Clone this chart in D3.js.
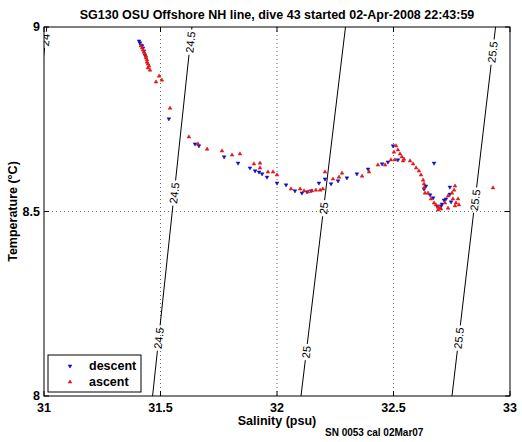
<!DOCTYPE html>
<html><head><meta charset="utf-8">
<script src="https://cdn.jsdelivr.net/npm/d3@7"></script>
<style>
body{margin:0;background:#fff;}
text{font-family:"Liberation Sans",Arial,Helvetica,sans-serif;}
</style></head>
<body><svg id="c" width="522" height="442"></svg>
<script>
// ---- data ----
const xTicks = [31, 31.5, 32, 32.5, 33];
const yTicks = [8, 8.5, 9];
const xTickLabels = ["31", "31.5", "32", "32.5", "33"];
const yTickLabels = ["8", "8.5", "9"];

// descent: [salinity, temperature]
const descentS = [31.408,31.412,31.416,31.421,31.425,31.429,31.433,31.536,31.648,31.665,31.773,31.833,31.884,31.906,31.923,31.936,31.957,32.000,32.039,32.077,32.107,32.129,32.146,32.180,32.206,32.232,32.262,32.300,32.343,32.391,32.451,32.476,32.498,32.519,32.674,32.639,32.631,32.657,32.670,32.687,32.704,32.708,32.717,32.725,32.742,32.742,32.747];
const descentT = [8.962,8.957,8.951,8.949,8.943,8.935,8.924,8.751,8.683,8.678,8.648,8.631,8.618,8.610,8.607,8.602,8.593,8.577,8.572,8.556,8.550,8.553,8.556,8.577,8.588,8.575,8.583,8.591,8.602,8.615,8.629,8.634,8.678,8.640,8.631,8.569,8.561,8.545,8.537,8.515,8.515,8.520,8.531,8.534,8.566,8.547,8.526];

const ascentS = [31.416,31.421,31.425,31.429,31.433,31.438,31.438,31.442,31.442,31.446,31.451,31.446,31.455,31.494,31.506,31.481,31.541,31.622,31.661,31.700,31.764,31.807,31.841,31.901,31.927,31.927,31.961,31.983,32.000,32.060,32.099,32.116,32.133,32.150,32.167,32.185,32.197,32.206,32.240,32.266,32.279,32.365,32.395,32.433,32.464,32.489,32.511,32.519,32.528,32.536,32.545,32.506,32.541,32.502,32.571,32.584,32.597,32.609,32.618,32.627,32.631,32.631,32.635,32.648,32.661,32.674,32.682,32.691,32.700,32.704,32.691,32.721,32.734,32.734,32.751,32.755,32.760,32.764,32.768,32.764,32.781,32.777,32.927];
const ascentT = [8.949,8.943,8.938,8.932,8.927,8.921,8.916,8.911,8.905,8.900,8.894,8.889,8.883,8.867,8.856,8.851,8.780,8.702,8.683,8.669,8.664,8.653,8.656,8.629,8.631,8.618,8.607,8.607,8.599,8.561,8.561,8.556,8.553,8.556,8.558,8.558,8.561,8.607,8.588,8.593,8.604,8.596,8.607,8.626,8.626,8.640,8.678,8.667,8.656,8.648,8.642,8.640,8.637,8.661,8.637,8.629,8.618,8.610,8.599,8.585,8.575,8.564,8.550,8.550,8.534,8.523,8.518,8.512,8.510,8.507,8.504,8.523,8.542,8.509,8.550,8.534,8.558,8.569,8.523,8.515,8.518,8.534,8.564];

// isopycnals (sigma-theta): salinity where each crosses T=8 and T=9
const sigmaLevels = ["24", "24.5", "25", "25.5"];
const sigmaSAtT8 = [30.840, 31.466, 32.103, 32.751];
const sigmaSAtT9 = [31.012, 31.635, 32.294, 32.938];
const sigmaLabelT = [[8.965], [8.959, 8.550, 8.157], [8.509, 8.119], [8.932, 8.531, 8.157]];

// ---- layout ----
const svg = d3.select("#c");
const L = 44, R = 510, T = 27, B = 396;
const x = d3.scaleLinear().domain([31, 33]).range([L, R]);
const y = d3.scaleLinear().domain([8, 9]).range([B, T]);

svg.append("rect").attr("width",522).attr("height",442).attr("fill","#fff");
svg.append("defs").append("clipPath").attr("id","pc")
  .append("rect").attr("x",L).attr("y",T).attr("width",R-L).attr("height",B-T);

// grid
const grid = svg.append("g").attr("stroke","#444").attr("stroke-width",0.8).attr("stroke-dasharray","1,3");
xTicks.slice(1,-1).forEach(v => grid.append("line").attr("x1",x(v)).attr("x2",x(v)).attr("y1",T).attr("y2",B));
yTicks.slice(1,-1).forEach(v => grid.append("line").attr("x1",L).attr("x2",R).attr("y1",y(v)).attr("y2",y(v)));

// contours
const cg = svg.append("g").attr("clip-path","url(#pc)");
sigmaLevels.forEach((lev, i) => {
  const p0 = [x(sigmaSAtT8[i]), y(8)], p1 = [x(sigmaSAtT9[i]), y(9)];
  const dx = p1[0]-p0[0], dy = p1[1]-p0[1];
  const len = Math.hypot(dx, dy);
  const ux = dx/len, uy = dy/len;
  const ang = Math.atan2(dy, dx) * 180/Math.PI;
  const gaps = [];
  sigmaLabelT[i].forEach(tl => {
    const tc = (y(tl)-p0[1])/dy*len;
    const cx = p0[0]+ux*tc, cy = p0[1]+uy*tc;
    const t = cg.append("text").attr("font-size",11)
      .attr("text-anchor","middle").attr("dominant-baseline","central")
      .attr("transform",`translate(${cx},${cy}) rotate(${ang})`).text(lev);
    const w = t.node().getComputedTextLength();
    gaps.push([tc - w/2 - 2, tc + w/2 + 2]);
  });
  gaps.sort((a,b)=>a[0]-b[0]);
  let s = -50;
  const segs = [];
  gaps.forEach(g => { segs.push([s, g[0]]); s = g[1]; });
  segs.push([s, len+50]);
  segs.forEach(sg => {
    cg.append("line")
      .attr("x1",p0[0]+ux*sg[0]).attr("y1",p0[1]+uy*sg[0])
      .attr("x2",p0[0]+ux*sg[1]).attr("y2",p0[1]+uy*sg[1])
      .attr("stroke","#000").attr("stroke-width",1);
  });
});

// points
const tri = d3.symbol().type(d3.symbolTriangle).size(6);
const pg = svg.append("g").attr("clip-path","url(#pc)");
descentS.forEach((s, k) => {
  pg.append("path").attr("d", tri())
    .attr("transform",`translate(${x(s)},${y(descentT[k])}) rotate(180)`)
    .attr("fill","#1010c0").attr("stroke","#1010c0").attr("stroke-width",0.5);
});
ascentS.forEach((s, k) => {
  pg.append("path").attr("d", tri())
    .attr("transform",`translate(${x(s)},${y(ascentT[k])})`)
    .attr("fill","#e01818").attr("stroke","#e01818").attr("stroke-width",0.5);
});

// axes frame and ticks
svg.append("rect").attr("x",L).attr("y",T).attr("width",R-L).attr("height",B-T)
  .attr("fill","none").attr("stroke","#000").attr("stroke-width",1);
const tk = 5;
const ax = svg.append("g").attr("stroke","#000").attr("stroke-width",1);
xTicks.forEach(v => {
  ax.append("line").attr("x1",x(v)).attr("x2",x(v)).attr("y1",B).attr("y2",B-tk);
  ax.append("line").attr("x1",x(v)).attr("x2",x(v)).attr("y1",T).attr("y2",T+tk);
});
yTicks.forEach(v => {
  ax.append("line").attr("x1",L).attr("x2",L+tk).attr("y1",y(v)).attr("y2",y(v));
  ax.append("line").attr("x1",R).attr("x2",R-tk).attr("y1",y(v)).attr("y2",y(v));
});
xTicks.forEach((v,k) => svg.append("text").attr("x",x(v)).attr("y",B+16)
  .attr("text-anchor","middle").attr("font-size",12.5).attr("font-weight","bold").text(xTickLabels[k]));
yTicks.forEach((v,k) => svg.append("text").attr("x",L-4).attr("y",y(v)+4)
  .attr("text-anchor","end").attr("font-size",12.5).attr("font-weight","bold").text(yTickLabels[k]));

// labels
svg.append("text").attr("x",(L+R)/2).attr("y",19).attr("text-anchor","middle")
  .attr("font-size",12.5).attr("font-weight","bold")
  .text("SG130 OSU Offshore NH line, dive 43 started 02-Apr-2008 22:43:59");
svg.append("text").attr("x",(L+R)/2).attr("y",425).attr("text-anchor","middle")
  .attr("font-size",12.5).attr("font-weight","bold").text("Salinity (psu)");
svg.append("text").attr("transform",`translate(17,${(T+B)/2}) rotate(-90)`).attr("text-anchor","middle")
  .attr("font-size",12.5).attr("font-weight","bold").text("Temperature (°C)");
svg.append("text").attr("x",325).attr("y",436).attr("font-size",10).attr("font-weight","bold")
  .text("SN 0053 cal 02Mar07");

// legend
const lg = svg.append("g");
lg.append("rect").attr("x",48).attr("y",355).attr("width",93).attr("height",37)
  .attr("fill","#fff").attr("stroke","#000").attr("stroke-width",1);
lg.append("path").attr("d",tri()).attr("transform","translate(70,366) rotate(180)")
  .attr("fill","#1010c0").attr("stroke","#1010c0").attr("stroke-width",0.5);
lg.append("path").attr("d",tri()).attr("transform","translate(70,382)")
  .attr("fill","#e01818").attr("stroke","#e01818").attr("stroke-width",0.5);
lg.append("text").attr("x",89).attr("y",370).attr("font-size",12.5).attr("font-weight","bold").text("descent");
lg.append("text").attr("x",89).attr("y",386).attr("font-size",12.5).attr("font-weight","bold").text("ascent");
</script></body></html>
